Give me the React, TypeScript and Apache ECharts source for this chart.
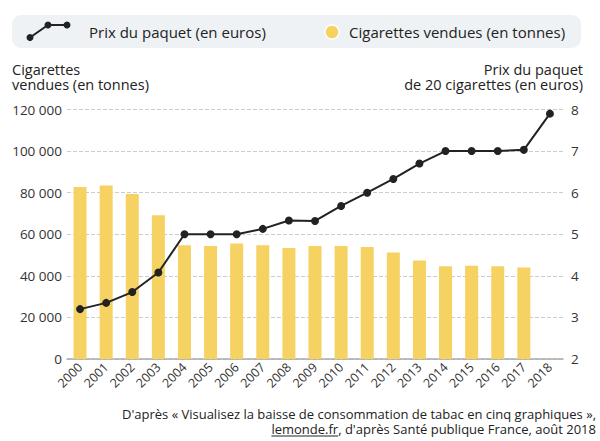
import React, { useEffect, useRef } from "react";
import * as echarts from "echarts";

const years = ["2000","2001","2002","2003","2004","2005","2006","2007","2008","2009","2010","2011","2012","2013","2014","2015","2016","2017","2018"];
const cigarettes = [82700, 83500, 79300, 69100, 54700, 54400, 55500, 54700, 53400, 54400, 54400, 53900, 51200, 47400, 44600, 44800, 44600, 44000, null];
const prix = [3.2, 3.35, 3.61, 4.08, 5.0, 5.0, 5.0, 5.13, 5.33, 5.32, 5.68, 6.0, 6.33, 6.7, 7.0, 7.0, 7.0, 7.03, 7.9];

const FONT = "'Open Sans'";
const TXT = "#222";
const SRC1 = "D'après « Visualisez la baisse de consommation de tabac en cinq graphiques »,";
const SRC_LINK = "lemonde.fr";
const SRC2 = ", d'après Santé publique France, août 2018";
const SRC_FONT = `13px ${FONT}`;

function measure(text: string, font: string): number {
  const c = document.createElement("canvas").getContext("2d");
  if (!c) return text.length * 6.5;
  c.font = font;
  return c.measureText(text).width;
}

export default function App() {
  const ref = useRef<HTMLDivElement>(null);
  useEffect(() => {
    const chart = echarts.init(ref.current!, null, { renderer: "svg" });
    const fullW = measure(SRC_LINK + SRC2, SRC_FONT);
    const linkW = measure(SRC_LINK, SRC_FONT);
    const x0 = 596 - fullW;
    chart.setOption({
      animation: false,
      textStyle: { fontFamily: FONT },
      grid: { left: 67, right: 37, top: 109.5, bottom: 82 },
      xAxis: {
        type: "category",
        data: years,
        axisTick: { show: false },
        axisLine: { lineStyle: { color: "#aaa", width: 1.5 } },
        axisLabel: { rotate: 45, color: "#333", fontSize: 12.5, fontFamily: FONT, margin: 6, interval: 0 },
      },
      yAxis: [
        {
          type: "value", min: 0, max: 120000, interval: 20000,
          axisLabel: {
            color: "#333", fontSize: 13.5, fontFamily: FONT, margin: 5,
            formatter: (v: number) => v === 0 ? "0" : String(v).replace(/\B(?=(\d{3})+(?!\d))/g, " "),
          },
          splitLine: { lineStyle: { color: "#ccc", type: "dashed" } },
          axisLine: { show: false }, axisTick: { show: false },
        },
        {
          type: "value", min: 2, max: 8, interval: 1, position: "right",
          axisLabel: { color: "#333", fontSize: 13.5, fontFamily: FONT, margin: 8 },
          splitLine: { show: false }, axisLine: { show: false }, axisTick: { show: false },
        },
      ],
      series: [
        {
          type: "bar", name: "Cigarettes vendues (en tonnes)", data: cigarettes, yAxisIndex: 0,
          barWidth: 13, itemStyle: { color: "#f6d262" },
        },
        {
          type: "line", name: "Prix du paquet (en euros)", data: prix, yAxisIndex: 1,
          symbol: "circle", symbolSize: 8, lineStyle: { color: "#222", width: 2 },
          itemStyle: { color: "#222" },
        },
      ],
      graphic: [
        { type: "rect", shape: { x: 12, y: 15, width: 569, height: 33, r: 9 }, style: { fill: "#eef2f5" } },
        { type: "polyline", shape: { points: [[30, 37.5], [48, 25], [67, 25]] }, style: { stroke: "#222", lineWidth: 2, fill: null } },
        { type: "circle", shape: { cx: 30, cy: 37.5, r: 3.5 }, style: { fill: "#222" } },
        { type: "circle", shape: { cx: 48, cy: 25, r: 3.5 }, style: { fill: "#222" } },
        { type: "circle", shape: { cx: 67, cy: 25, r: 3.5 }, style: { fill: "#222" } },
        { type: "text", x: 89, y: 32, style: { text: "Prix du paquet (en euros)", font: `15px ${FONT}`, fill: TXT, verticalAlign: "middle" } },
        { type: "circle", shape: { cx: 332, cy: 32, r: 7 }, style: { fill: "#f6d262", stroke: "#fff", lineWidth: 1.5 } },
        { type: "text", x: 349, y: 32, style: { text: "Cigarettes vendues (en tonnes)", font: `15px ${FONT}`, fill: TXT, verticalAlign: "middle" } },
        { type: "text", x: 12, y: 69, style: { text: "Cigarettes", font: `14.5px ${FONT}`, fill: TXT, verticalAlign: "middle" } },
        { type: "text", x: 12, y: 84.5, style: { text: "vendues (en tonnes)", font: `14.5px ${FONT}`, fill: TXT, verticalAlign: "middle" } },
        { type: "text", x: 583, y: 69, style: { text: "Prix du paquet", font: `14.5px ${FONT}`, fill: TXT, align: "right", verticalAlign: "middle" } },
        { type: "text", x: 583, y: 84.5, style: { text: "de 20 cigarettes (en euros)", font: `14.5px ${FONT}`, fill: TXT, align: "right", verticalAlign: "middle" } },
        { type: "text", x: 596, y: 413.5, style: { text: SRC1, font: SRC_FONT, fill: TXT, align: "right", verticalAlign: "middle" } },
        { type: "text", x: 596, y: 428.5, style: { text: SRC_LINK + SRC2, font: SRC_FONT, fill: TXT, align: "right", verticalAlign: "middle" } },
        { type: "line", shape: { x1: x0, y1: 436, x2: x0 + linkW, y2: 436 }, style: { stroke: TXT, lineWidth: 1 } },
      ],
    });
    return () => chart.dispose();
  }, []);
  return <div ref={ref} style={{ width: 600, height: 441, position: "absolute", left: 0, top: 0 }} />;
}
